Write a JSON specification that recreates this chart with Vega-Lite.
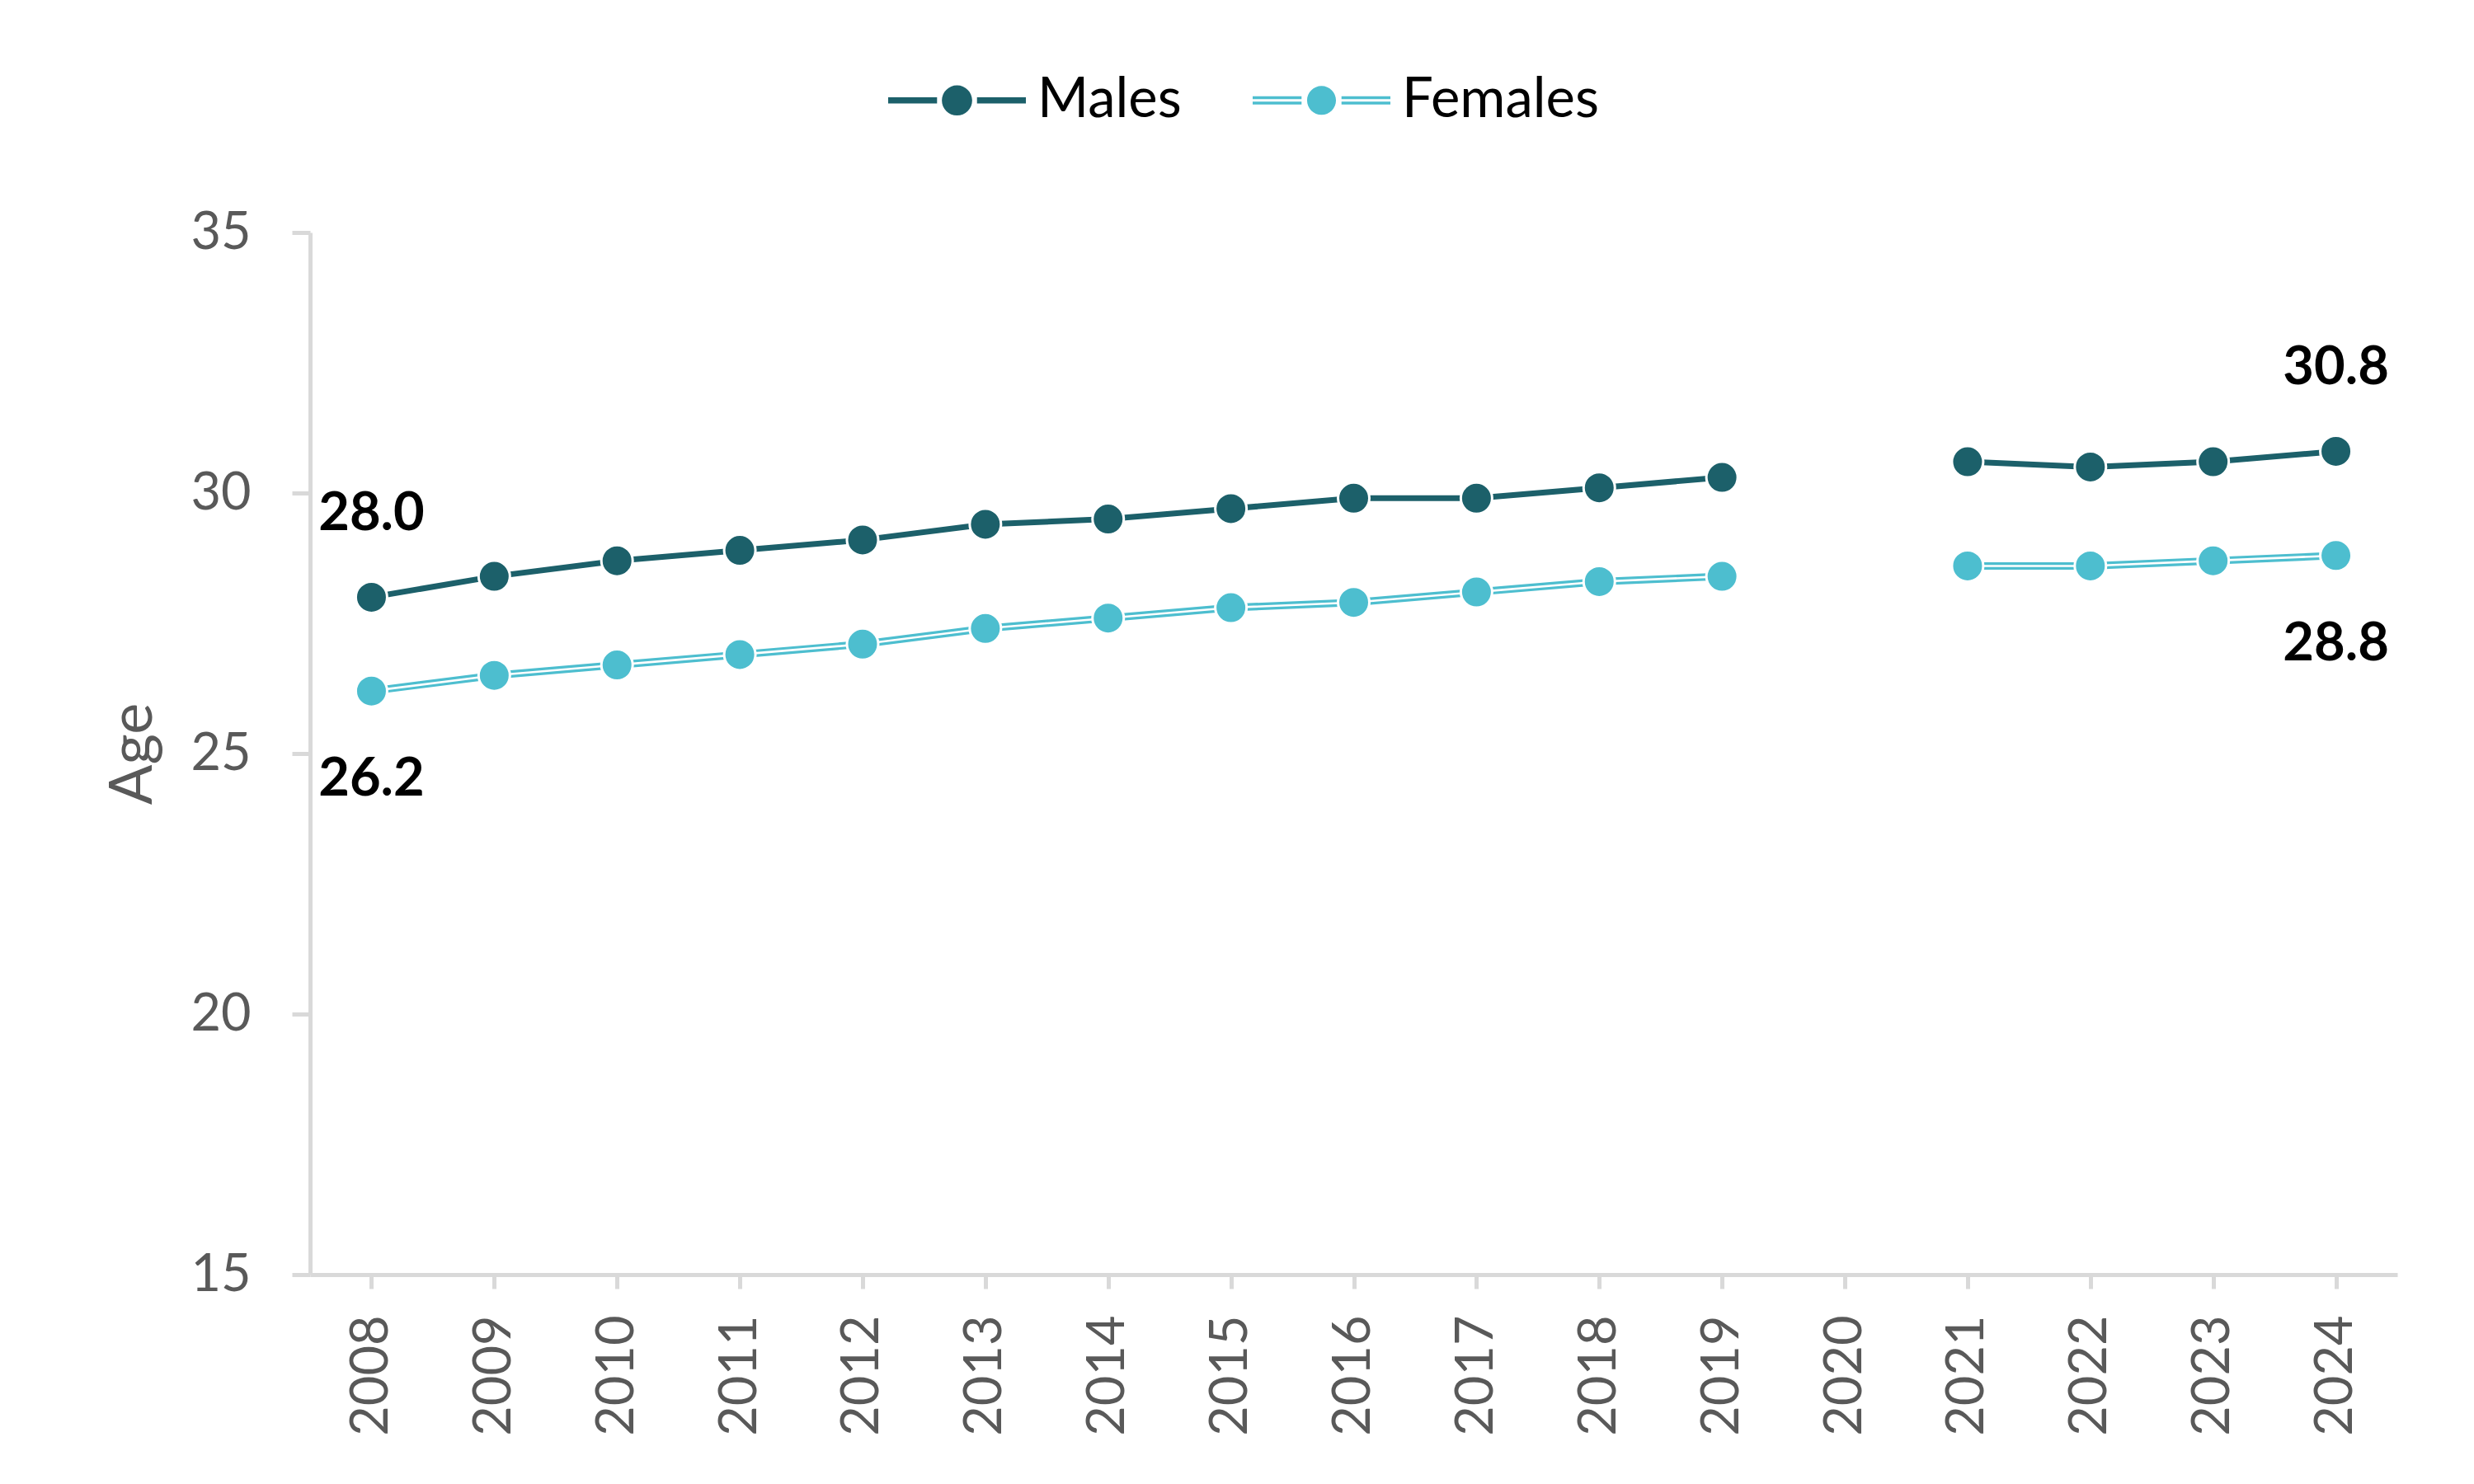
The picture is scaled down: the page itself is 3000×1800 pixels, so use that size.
{
  "$schema": "https://vega.github.io/schema/vega-lite/v6.json",
  "width": 2531,
  "height": 1264,
  "autosize": {"type": "none"},
  "padding": {"left": 376, "top": 282, "right": 93, "bottom": 254},
  "background": "white",
  "config": {
    "view": {"stroke": null},
    "font": "Lato",
    "axis": {"grid": false}
  },
  "data": {
    "values": [
      {"year": "2008", "sex": "Males", "age": 28.0},
      {"year": "2009", "sex": "Males", "age": 28.4},
      {"year": "2010", "sex": "Males", "age": 28.7},
      {"year": "2011", "sex": "Males", "age": 28.9},
      {"year": "2012", "sex": "Males", "age": 29.1},
      {"year": "2013", "sex": "Males", "age": 29.4},
      {"year": "2014", "sex": "Males", "age": 29.5},
      {"year": "2015", "sex": "Males", "age": 29.7},
      {"year": "2016", "sex": "Males", "age": 29.9},
      {"year": "2017", "sex": "Males", "age": 29.9},
      {"year": "2018", "sex": "Males", "age": 30.1},
      {"year": "2019", "sex": "Males", "age": 30.3},
      {"year": "2020", "sex": "Males", "age": null},
      {"year": "2021", "sex": "Males", "age": 30.6},
      {"year": "2022", "sex": "Males", "age": 30.5},
      {"year": "2023", "sex": "Males", "age": 30.6},
      {"year": "2024", "sex": "Males", "age": 30.8},
      {"year": "2008", "sex": "Females", "age": 26.2},
      {"year": "2009", "sex": "Females", "age": 26.5},
      {"year": "2010", "sex": "Females", "age": 26.7},
      {"year": "2011", "sex": "Females", "age": 26.9},
      {"year": "2012", "sex": "Females", "age": 27.1},
      {"year": "2013", "sex": "Females", "age": 27.4},
      {"year": "2014", "sex": "Females", "age": 27.6},
      {"year": "2015", "sex": "Females", "age": 27.8},
      {"year": "2016", "sex": "Females", "age": 27.9},
      {"year": "2017", "sex": "Females", "age": 28.1},
      {"year": "2018", "sex": "Females", "age": 28.3},
      {"year": "2019", "sex": "Females", "age": 28.4},
      {"year": "2020", "sex": "Females", "age": null},
      {"year": "2021", "sex": "Females", "age": 28.6},
      {"year": "2022", "sex": "Females", "age": 28.6},
      {"year": "2023", "sex": "Females", "age": 28.7},
      {"year": "2024", "sex": "Females", "age": 28.8}
    ]
  },
  "encoding": {
    "x": {
      "field": "year",
      "type": "ordinal",
      "scale": {"type": "point", "padding": 0.5, "domain": ["2008","2009","2010","2011","2012","2013","2014","2015","2016","2017","2018","2019","2020","2021","2022","2023","2024"]},
      "axis": {
        "title": null,
        "labelAngle": -90,
        "labelFontSize": 63,
        "labelColor": "#595959",
        "labelPadding": 32,
        "domainColor": "#D9D9D9",
        "domainWidth": 5,
        "tickColor": "#D9D9D9",
        "tickWidth": 5,
        "tickSize": 17
      }
    },
    "y": {
      "field": "age",
      "type": "quantitative",
      "scale": {"domain": [15, 35], "nice": false, "zero": false},
      "axis": {
        "title": "Age",
        "titleFontSize": 72,
        "titleFontWeight": "normal",
        "titleColor": "#595959",
        "titlePadding": 32,
        "values": [15, 20, 25, 30, 35],
        "labelFontSize": 63,
        "labelColor": "#595959",
        "labelPadding": 50,
        "domainColor": "#D9D9D9",
        "domainWidth": 5,
        "tickColor": "#D9D9D9",
        "tickWidth": 5,
        "tickSize": 22
      }
    }
  },
  "layer": [
    {
      "transform": [{"filter": "datum.sex === 'Males'"}],
      "mark": {"type": "line", "color": "#1C606A", "strokeWidth": 7, "invalid": "break-paths-show-domains"}
    },
    {
      "transform": [{"filter": "datum.sex === 'Females'"}],
      "mark": {"type": "line", "color": "#4DBECF", "strokeWidth": 9, "invalid": "break-paths-show-domains"}
    },
    {
      "transform": [{"filter": "datum.sex === 'Females'"}],
      "mark": {"type": "line", "color": "white", "strokeWidth": 2.6, "invalid": "break-paths-show-domains"}
    },
    {
      "transform": [{"filter": "datum.age != null"}],
      "mark": {"type": "point", "filled": true, "shape": "circle", "size": 1444, "opacity": 1, "stroke": "white", "strokeWidth": 3},
      "encoding": {
        "fill": {"condition": {"test": "datum.sex === 'Males'", "value": "#1C606A"}, "value": "#4DBECF"}
      }
    },
    {
      "transform": [{"filter": "datum.age != null"}],
      "mark": {"type": "point", "filled": true, "size": 27889, "opacity": 0},
      "encoding": {
        "color": {
          "field": "sex",
          "type": "nominal",
          "scale": {"domain": ["Males", "Females"], "range": ["#1C606A", "#4DBECF"]},
          "legend": {
            "title": null,
            "orient": "none",
            "direction": "horizontal",
            "legendX": 701,
            "legendY": -244,
            "padding": 0,
            "labelFontSize": 67,
            "labelColor": "#000000",
            "labelLimit": 1000,
            "labelOffset": 14,
            "columnPadding": 86,
            "symbolSize": 27889,
            "symbolOpacity": 1,
            "symbolStrokeWidth": 0,
            "encode": {"symbols": {"update": {"opacity": {"value": 1}, "strokeWidth": {"value": 0}}}}
          }
        },
        "shape": {
          "field": "sex",
          "type": "nominal",
          "scale": {
            "domain": ["Males", "Females"],
            "range": [
              "M-1,-0.044H-0.29V0.044H-1Z M0.29,-0.044H1V0.044H0.29Z M-0.22,0A0.22,0.22,0,1,0,0.22,0A0.22,0.22,0,1,0,-0.22,0Z",
              "M-1,-0.06H-0.29V-0.018H-1Z M-1,0.018H-0.29V0.06H-1Z M0.29,-0.06H1V-0.018H0.29Z M0.29,0.018H1V0.06H0.29Z M-0.21,0A0.21,0.21,0,1,0,0.21,0A0.21,0.21,0,1,0,-0.21,0Z"
            ]
          }
        }
      }
    },
    {
      "transform": [{"filter": "datum.sex === 'Males' && (datum.year === '2008' || datum.year === '2024')"}],
      "mark": {"type": "text", "fontSize": 65, "fontWeight": "bold", "color": "#000000", "align": "center", "baseline": "middle", "dy": -101},
      "encoding": {"text": {"field": "age", "type": "quantitative", "format": ".1f"}}
    },
    {
      "transform": [{"filter": "datum.sex === 'Females' && (datum.year === '2008' || datum.year === '2024')"}],
      "mark": {"type": "text", "fontSize": 65, "fontWeight": "bold", "color": "#000000", "align": "center", "baseline": "middle", "dy": 107},
      "encoding": {"text": {"field": "age", "type": "quantitative", "format": ".1f"}}
    }
  ]
}
